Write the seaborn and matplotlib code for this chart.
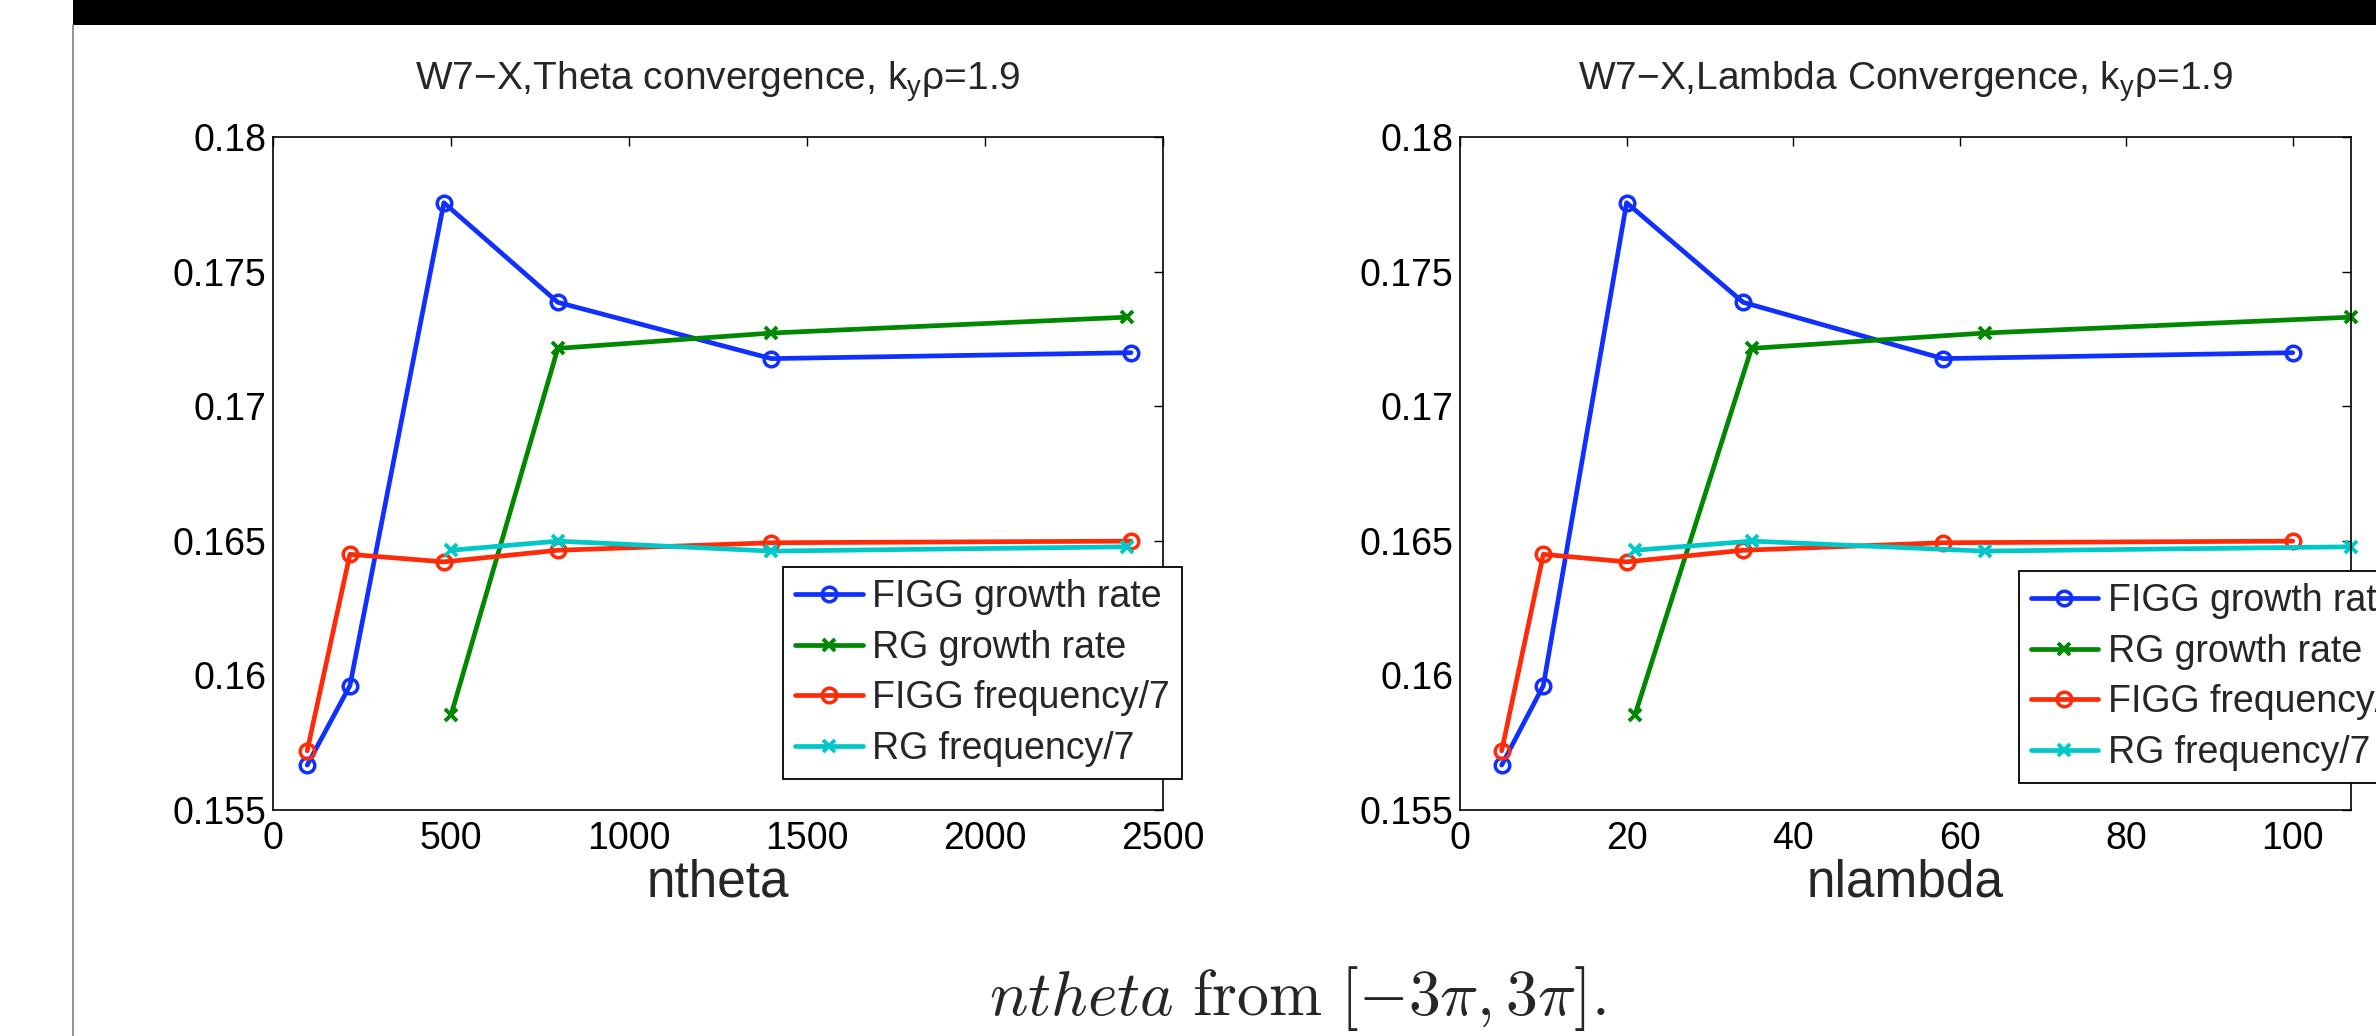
import matplotlib
matplotlib.use("Agg")
import matplotlib.pyplot as plt
import seaborn as sns
from matplotlib.ticker import FormatStrFormatter
from matplotlib.patches import Rectangle
from matplotlib.lines import Line2D

# x values (resolution scans)
ntheta_figg = [96, 216, 480, 800, 1400, 2410]
ntheta_rg = [500, 800, 1400, 2400]
nlambda_figg = [5, 10, 20, 34, 58, 100]
nlambda_rg = [21, 35, 63, 107]

# y values, same in both panels
figg_growth = [0.15667, 0.15962, 0.17756, 0.17386, 0.17177, 0.17199]
rg_growth = [0.15853, 0.17215, 0.17272, 0.17331]
figg_freq = [0.15720, 0.16450, 0.16422, 0.16465, 0.16493, 0.16499]
rg_freq = [0.16465, 0.16499, 0.16462, 0.16478]

labels = ["FIGG growth rate", "RG growth rate", "FIGG frequency/7", "RG frequency/7"]
yticks = [0.155, 0.16, 0.165, 0.17, 0.175, 0.18]

BLUE = "#1030ff"
GREEN = "#008800"
RED = "#ff2a08"
CYAN = "#00c8c8"

sns.set_style("white")
plt.rcParams["font.family"] = ["Liberation Sans", "DejaVu Sans"]
plt.rcParams["mathtext.rm"] = "Liberation Sans"
plt.rcParams["mathtext.it"] = "Liberation Sans:italic"


def draw_panel(ax, x_figg, x_rg, xlim, xticks, xlabel, title):
    series = [
        (x_figg, figg_growth, BLUE, "o"),
        (x_rg, rg_growth, GREEN, "x"),
        (x_figg, figg_freq, RED, "o"),
        (x_rg, rg_freq, CYAN, "x"),
    ]
    for (x, y, c, m), lab in zip(series, labels):
        if m == "o":
            mk = dict(markersize=10.5, markeredgewidth=2.5, markerfacecolor="none")
        else:
            mk = dict(markersize=8, markeredgewidth=2.8)
        sns.lineplot(x=x, y=y, ax=ax, color=c, marker=m, linewidth=3.4,
                     markeredgecolor=c, label=lab, clip_on=False, **mk)

    ax.set_xlim(*xlim)
    ax.set_ylim(0.155, 0.18)
    ax.set_xticks(xticks)
    ax.set_yticks(yticks)
    ax.yaxis.set_major_formatter(FormatStrFormatter("%g"))
    ax.tick_params(direction="in", length=6.5, width=1, top=True, right=True,
                   labelsize=27, colors="black")
    ax.tick_params(axis="x", pad=8)
    ax.tick_params(axis="y", pad=5)
    for sp in ax.spines.values():
        sp.set_visible(True)
        sp.set_color("black")
        sp.set_linewidth(1.2)
    ax.set_xlabel(xlabel, fontsize=37, labelpad=1)
    ax.set_ylabel("")
    # title placed by its baseline, like the MATLAB original
    ax.text(0.5, 1.07, title, transform=ax.transAxes, ha="center", va="baseline",
            fontsize=28, math_fontfamily="custom")


fig = plt.figure(figsize=(23.76, 10.36), dpi=100)
ax1 = fig.add_axes([0.1149, 0.2181, 0.3746, 0.6496])
ax2 = fig.add_axes([0.6145, 0.2181, 0.3750, 0.6496])

draw_panel(ax1, ntheta_figg, ntheta_rg, (0, 2500), [0, 500, 1000, 1500, 2000, 2500],
           "ntheta", r"W7$-$X,Theta convergence, k$_\mathrm{y}$ρ=1.9")
draw_panel(ax2, nlambda_figg, nlambda_rg, (0, 107), [0, 20, 40, 60, 80, 100],
           "nlambda", r"W7$-$X,Lambda Convergence, k$_\mathrm{y}$ρ=1.9")

for ax, anchor in [(ax1, (0.573, 0.361)), (ax2, (0.627, 0.355))]:
    leg = ax.legend(loc="upper left", bbox_to_anchor=anchor, fontsize=27,
                    frameon=True, fancybox=False, framealpha=1, edgecolor="black",
                    borderaxespad=0, borderpad=0.32, labelspacing=0.39,
                    handlelength=1.8, handletextpad=0.25)
    leg.get_frame().set_linewidth(1.3)

# slide decorations: black header bar and left rule
fig.add_artist(Rectangle((0.0307, 0.9759), 1 - 0.0307, 0.0241, transform=fig.transFigure,
                         facecolor="black", edgecolor="none"))
fig.add_artist(Line2D([0.0307, 0.0307], [0, 0.976], transform=fig.transFigure,
                      color="#808080", linewidth=1.2))

fig.text(0.546, 0.02, r"$ntheta\ \mathrm{from}\ [-3\pi, 3\pi].$", math_fontfamily="cm",
         fontsize=46, ha="center", va="baseline")

fig.savefig("out.png", dpi=100)
